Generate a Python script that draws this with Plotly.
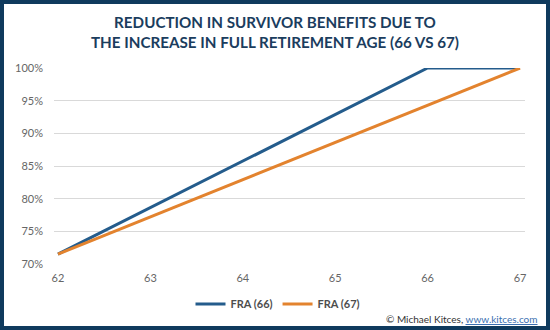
import plotly.graph_objects as go

# Survivor benefit as a percentage of the deceased's benefit, by claiming age
ages = [62, 63, 64, 65, 66, 67]
fra_66 = [71.5, 78.6, 85.75, 92.9, 100, 100]
fra_67 = [71.5, 77.2, 82.9, 88.6, 94.3, 100]
series_names = ["<b>FRA (66)</b>", "<b>FRA (67)</b>"]
y_ticks = [70, 75, 80, 85, 90, 95, 100]

BLUE = "#245c8c"
ORANGE = "#e3832e"
NAVY = "#0f3a5d"
FONT = "Lato"

# plot-area geometry in pixels, used to place the outer frame and notes
W, H = 550, 330
L, R, T, B = 54, 25, 68, 66
PW, PH = W - L - R, H - T - B


def px_x(x):
    return (x - L) / PW


def px_y(y):
    return (H - B - y) / PH


fig = go.Figure()
fig.add_trace(go.Scatter(x=ages, y=fra_66, mode="lines", name=series_names[0],
                         line=dict(color=BLUE, width=3)))
fig.add_trace(go.Scatter(x=ages, y=fra_67, mode="lines", name=series_names[1],
                         line=dict(color=ORANGE, width=3)))

fig.update_layout(
    width=W, height=H,
    margin=dict(l=L, r=R, t=T, b=B),
    paper_bgcolor="white", plot_bgcolor="white",
    font=dict(family=FONT, color="#666666", size=11),
    showlegend=True,
    legend=dict(orientation="h", x=px_x(278), y=px_y(304), xanchor="center",
                yanchor="middle", font=dict(family=FONT, size=11, color="#4d4d4d"),
                itemwidth=30, tracegroupgap=0, bgcolor="rgba(0,0,0,0)"),
)
fig.update_xaxes(range=[61.957, 67.054], tickvals=ages, ticktext=[str(a) for a in ages],
                 showgrid=False, zeroline=False, showline=False, ticks="",
                 ticklabelstandoff=6, tickfont=dict(color="#666666", size=11))
fig.update_yaxes(range=[70, 100], tickvals=y_ticks, ticktext=[f"{v}%" for v in y_ticks],
                 showgrid=True, gridcolor="#d9d9d9", gridwidth=1, zeroline=False,
                 showline=False, ticks="", ticklabelstandoff=10,
                 tickfont=dict(color="#666666", size=11))

# title
fig.add_annotation(
    text="<b>REDUCTION IN SURVIVOR BENEFITS DUE TO<br>THE INCREASE IN FULL RETIREMENT AGE (66 VS 67)</b>",
    xref="paper", yref="paper", x=px_x(275), y=px_y(32), xanchor="center", yanchor="middle",
    showarrow=False, align="center",
    font=dict(family=FONT, size=15.2, color="#1b3d5e", weight=900),
)

# credit line
fig.add_annotation(
    text="© Michael Kitces, <span style='color:#3a6fb0;text-decoration:underline'>www.kitces.com</span>",
    xref="paper", yref="paper", x=px_x(540), y=px_y(319), xanchor="right", yanchor="middle",
    showarrow=False, font=dict(family=FONT, size=10, color="#333333"),
)

# outer frame
fig.add_shape(type="rect", xref="paper", yref="paper",
              x0=px_x(2), x1=px_x(548), y0=px_y(328), y1=px_y(2),
              line=dict(color=NAVY, width=4), fillcolor="rgba(0,0,0,0)", layer="above")

fig.write_html("out.html")
